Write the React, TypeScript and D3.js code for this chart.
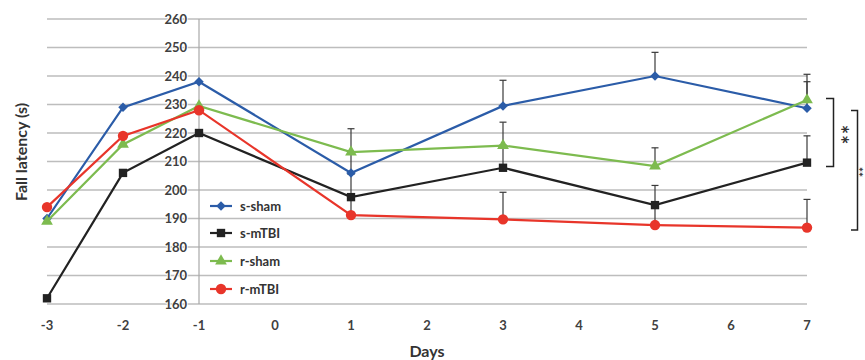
import * as d3 from 'd3';

const days = [-3, -2, -1, 1, 3, 5, 7];
const xTicks = [-3, -2, -1, 0, 1, 2, 3, 4, 5, 6, 7];
const yTicks = [160, 170, 180, 190, 200, 210, 220, 230, 240, 250, 260];

const seriesNames = ['s-sham', 's-mTBI', 'r-sham', 'r-mTBI'];
const sSham = [190, 229, 238, 206, 229.5, 240, 228.7];
const sMtbi = [162, 206, 220, 197.5, 207.8, 194.7, 209.6];
const rSham = [189, 216, 229.5, 213.3, 215.6, 208.4, 231.6];
const rMtbi = [194, 219, 228, 191.2, 189.7, 187.7, 186.8];

// upper error bars only (SEM)
const sShamErr = [0, 0, 0, 7, 9, 8.3, 9.3];
const sMtbiErr = [0, 0, 0, 8, 8, 6.9, 9.4];
const rShamErr = [0, 0, 0, 8.2, 8.2, 6.4, 9];
const rMtbiErr = [0, 0, 0, 6, 9.5, 7, 9.9];

const colors = ['#2b5ca8', '#222222', '#7dbb4f', '#e8352a'];
const symbols = [d3.symbolSquare, d3.symbolSquare, d3.symbolTriangle, d3.symbolCircle];
const symSizes = [45, 70, 60, 85];
const symRotate = [45, 0, 0, 0];

const W = 865;
const H = 360;
const FONT = 'Lato, "Open Sans", sans-serif';

export default function App() {
  const x = d3.scaleLinear().domain([-3, 7]).range([47, 807]);
  const y = d3.scaleLinear().domain([160, 260]).range([304, 19]);

  const values = [sSham, sMtbi, rSham, rMtbi];
  const errs = [sShamErr, sMtbiErr, rShamErr, rMtbiErr];

  const line = d3
    .line<number>()
    .x((_, i) => x(days[i]))
    .y((d) => y(d));

  const legendY = [206, 233, 261, 289];

  return (
    <svg
      width={W}
      height={H}
      style={{ position: 'absolute', left: 0, top: 0, background: '#fff' }}
      fontFamily={FONT}
    >
      {/* gridlines */}
      {yTicks.map((t) => (
        <line key={t} x1={x(-3)} x2={x(7)} y1={y(t)} y2={y(t)} stroke="#bdbdbd" strokeWidth={1.5} />
      ))}
      {/* y axis line at -1 */}
      <line x1={x(-1)} x2={x(-1)} y1={y(260)} y2={y(160)} stroke="#a8a8a8" strokeWidth={1.2} />

      {/* y tick labels */}
      {yTicks.map((t) => (
        <text
          key={t}
          x={x(-1) - 12}
          y={y(t) + 4.5}
          textAnchor="end"
          fontSize={13}
          fontWeight="bold"
          fill="#404040"
          stroke="#fff"
          strokeWidth={2}
          paintOrder="stroke"
        >
          {t}
        </text>
      ))}

      {/* x tick labels */}
      {xTicks.map((t) => (
        <text key={t} x={x(t)} y={330} textAnchor="middle" fontSize={13} fontWeight="bold" fill="#404040">
          {t}
        </text>
      ))}

      {/* axis titles */}
      <text x={(x(-3) + x(7)) / 2} y={357} textAnchor="middle" fontSize={16} fontWeight="bold" fill="#333">
        Days
      </text>
      <text
        transform={`translate(27, ${152}) rotate(-90)`}
        textAnchor="middle"
        fontSize={16}
        fontWeight="bold"
        fill="#333"
      >
        Fall latency (s)
      </text>

      {/* error bars */}
      {values.map((vals, s) =>
        vals.map((v, i) =>
          errs[s][i] > 0 ? (
            <g key={`e${s}-${i}`} stroke="#3a3a3a" strokeWidth={1.2}>
              <line x1={x(days[i])} x2={x(days[i])} y1={y(v)} y2={y(v + errs[s][i])} />
              <line x1={x(days[i]) - 3.5} x2={x(days[i]) + 3.5} y1={y(v + errs[s][i])} y2={y(v + errs[s][i])} />
            </g>
          ) : null
        )
      )}

      {/* lines + markers */}
      {values.map((vals, s) => (
        <g key={seriesNames[s]}>
          <path d={line(vals) || ''} fill="none" stroke={colors[s]} strokeWidth={2.2} />
          {vals.map((v, i) => (
            <path
              key={i}
              d={d3.symbol().type(symbols[s]).size(symSizes[s])() || ''}
              transform={`translate(${x(days[i])},${y(v)}) rotate(${symRotate[s]})`}
              fill={colors[s]}
            />
          ))}
        </g>
      ))}

      {/* legend */}
      {seriesNames.map((name, s) => (
        <g key={name} transform={`translate(210, ${legendY[s]})`}>
          <line x1={0} x2={22} y1={0} y2={0} stroke={colors[s]} strokeWidth={2.2} />
          <path
            d={d3.symbol().type(symbols[s]).size(symSizes[s])() || ''}
            transform={`translate(11,0) rotate(${symRotate[s]})`}
            fill={colors[s]}
          />
          <text x={30} y={4.5} fontSize={13} fontWeight="bold" fill="#333">
            {name}
          </text>
        </g>
      ))}

      {/* significance brackets */}
      <g stroke="#222" strokeWidth={1.5} fill="none">
        <path d="M826,98.5 H833.5 V166.5 H826" />
        <path d="M851,110.5 H857.5 V230 H851" />
      </g>
      <text
        transform="translate(832, 135) rotate(90)"
        textAnchor="middle"
        fontSize={22}
        fontWeight="bold"
        fill="#333"
        letterSpacing={1}
      >
        **
      </text>
      <text
        transform="translate(854, 172) rotate(90)"
        textAnchor="middle"
        fontSize={12}
        fontWeight="bold"
        fill="#333"
      >
        **
      </text>
    </svg>
  );
}
